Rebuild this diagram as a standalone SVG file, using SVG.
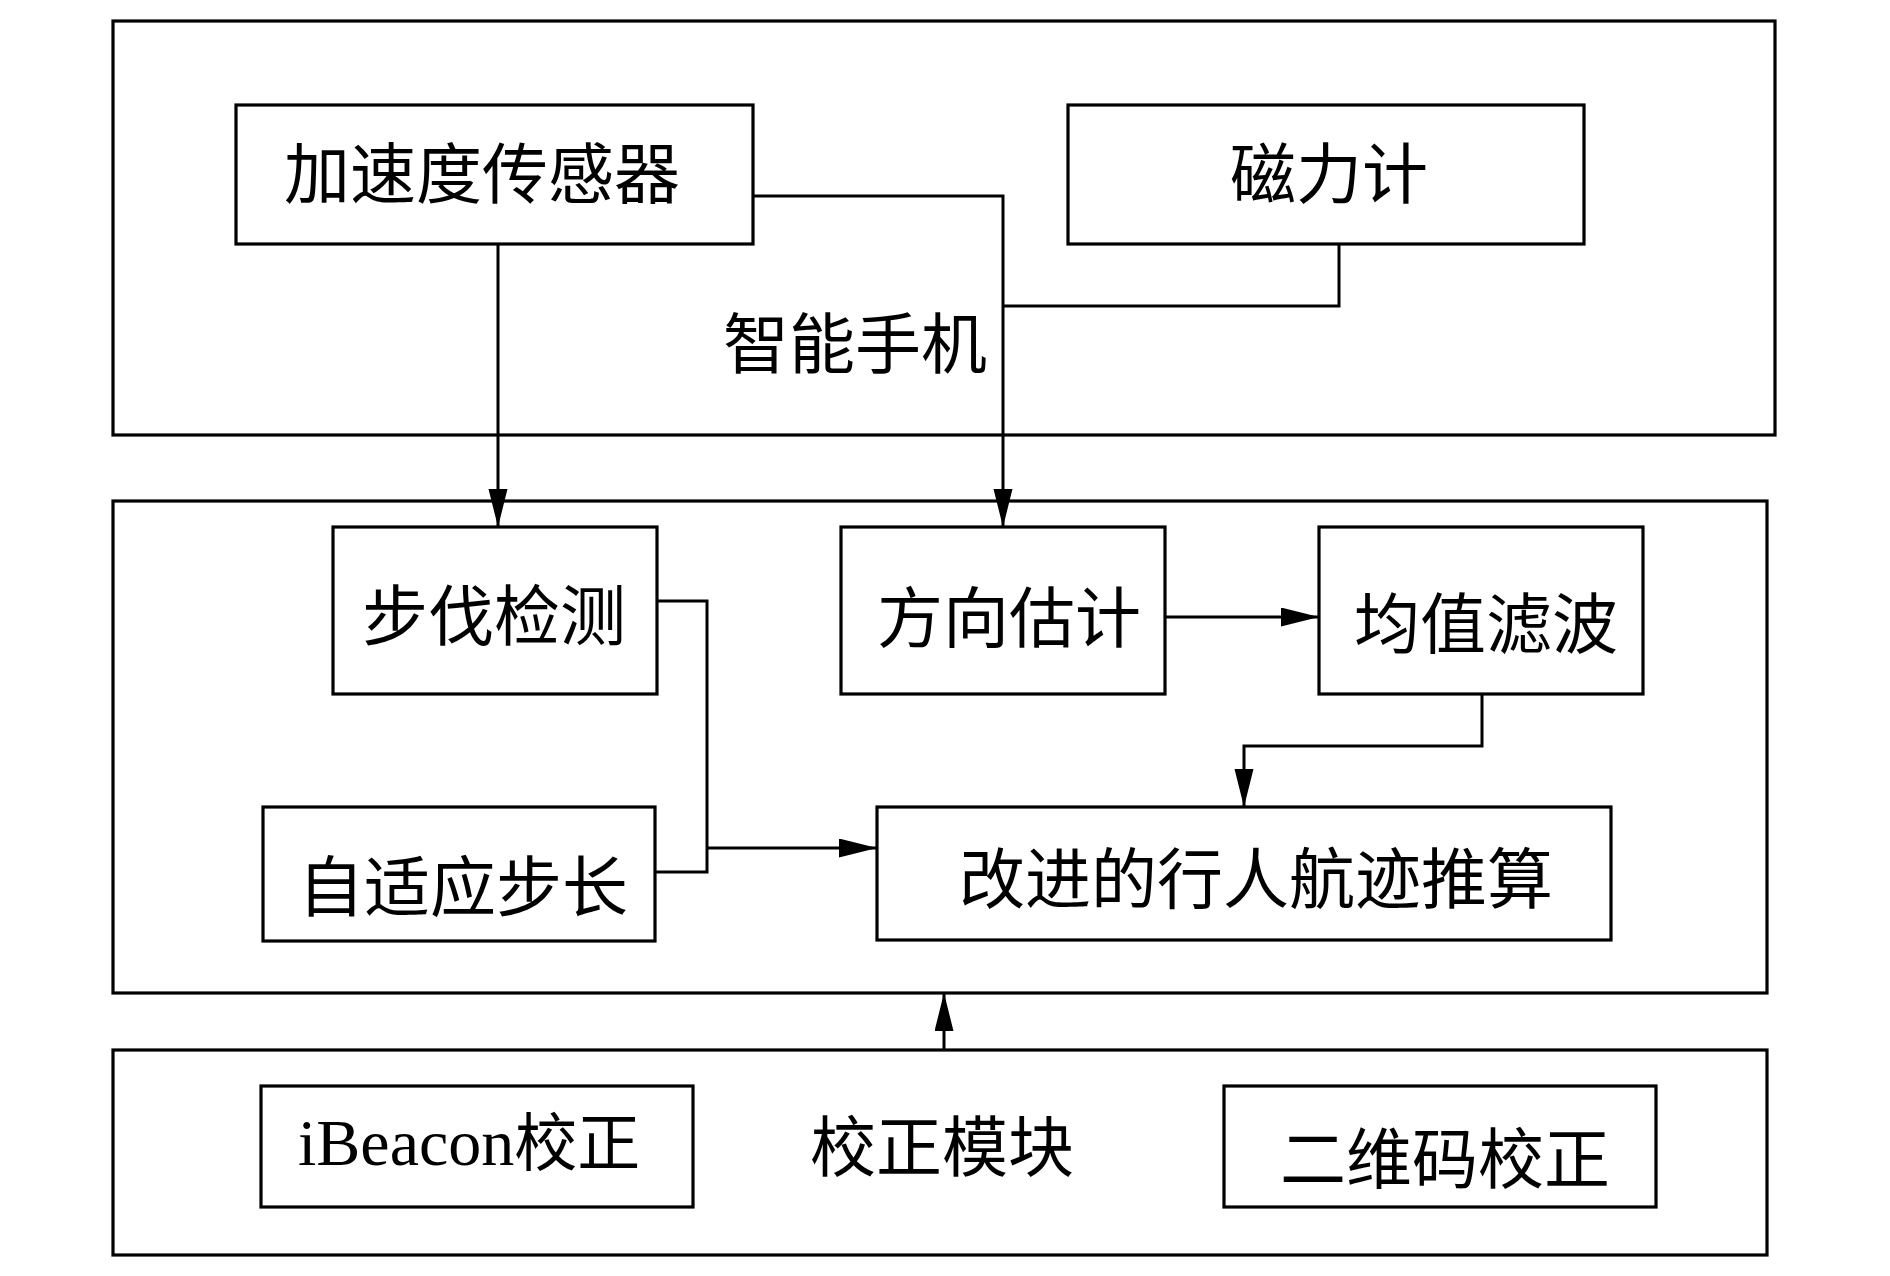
<svg xmlns="http://www.w3.org/2000/svg" width="1890" height="1276" viewBox="0 0 1890 1276">
<style>
.box{fill:none;stroke:#000;stroke-width:3.2}
.conn{fill:none;stroke:#000;stroke-width:3}
.t{font-family:"Noto Sans CJK SC","Noto Sans CJK TC",sans-serif;font-size:66px;fill:#000;text-anchor:middle;dominant-baseline:central}
.lat{font-family:"Liberation Serif","Noto Sans CJK SC",serif;font-size:66px;fill:#000}
</style>
<defs>
<marker id="arr" markerUnits="userSpaceOnUse" markerWidth="40" markerHeight="20" refX="38" refY="9.5" orient="auto">
<path d="M0,0 L38,9.5 L0,19 z" fill="#000"/>
</marker>
</defs>
<rect width="1890" height="1276" fill="#fff"/>

<g id="smartphone">
<rect class="box" x="113" y="21" width="1662" height="414"/>
<text class="t" x="855" y="339">智能手机</text>
</g>
<g id="accelerometer">
<rect class="box" x="236" y="105" width="517" height="139"/>
<text class="t" x="482" y="169">加速度传感器</text>
</g>
<g id="magnetometer">
<rect class="box" x="1068" y="105" width="516" height="139"/>
<text class="t" x="1329" y="169">磁力计</text>
</g>

<g id="pdr-module">
<rect class="box" x="113" y="501" width="1654" height="492"/>
</g>
<g id="step-detection">
<rect class="box" x="333" y="527" width="324" height="167"/>
<text class="t" x="494" y="611">步伐检测</text>
</g>
<g id="heading-estimation">
<rect class="box" x="841" y="527" width="324" height="167"/>
<text class="t" x="1009" y="613">方向估计</text>
</g>
<g id="mean-filter">
<rect class="box" x="1319" y="527" width="324" height="167"/>
<text class="t" x="1486" y="619">均值滤波</text>
</g>
<g id="adaptive-step">
<rect class="box" x="263" y="807" width="392" height="134"/>
<text class="t" x="463" y="882">自适应步长</text>
</g>
<g id="improved-pdr">
<rect class="box" x="877" y="807" width="734" height="133"/>
<text class="t" x="1256" y="874">改进的行人航迹推算</text>
</g>

<g id="correction-module">
<rect class="box" x="113" y="1050" width="1654" height="205"/>
<text class="t" x="942" y="1142">校正模块</text>
</g>
<g id="ibeacon-correction">
<rect class="box" x="261" y="1086" width="432" height="121"/>
<text class="lat" x="298" y="1165">iBeacon<tspan style="font-family:'Noto Sans CJK SC',sans-serif;font-size:63px">校正</tspan></text>
</g>
<g id="qrcode-correction">
<rect class="box" x="1224" y="1086" width="432" height="121"/>
<text class="t" x="1445" y="1154">二维码校正</text>
</g>

<g id="connectors">
<path class="conn" d="M498,244 V527" marker-end="url(#arr)"/>
<path class="conn" d="M753,196 H1003 V527" marker-end="url(#arr)"/>
<path class="conn" d="M1339,244 V306 H1003"/>
<path class="conn" d="M657,601 H707 V872 H655"/>
<path class="conn" d="M707,848 H877" marker-end="url(#arr)"/>
<path class="conn" d="M1165,617 H1319" marker-end="url(#arr)"/>
<path class="conn" d="M1482,694 V746 H1244 V807" marker-end="url(#arr)"/>
<path class="conn" d="M944,1050 V993" marker-end="url(#arr)"/>
</g>
</svg>
